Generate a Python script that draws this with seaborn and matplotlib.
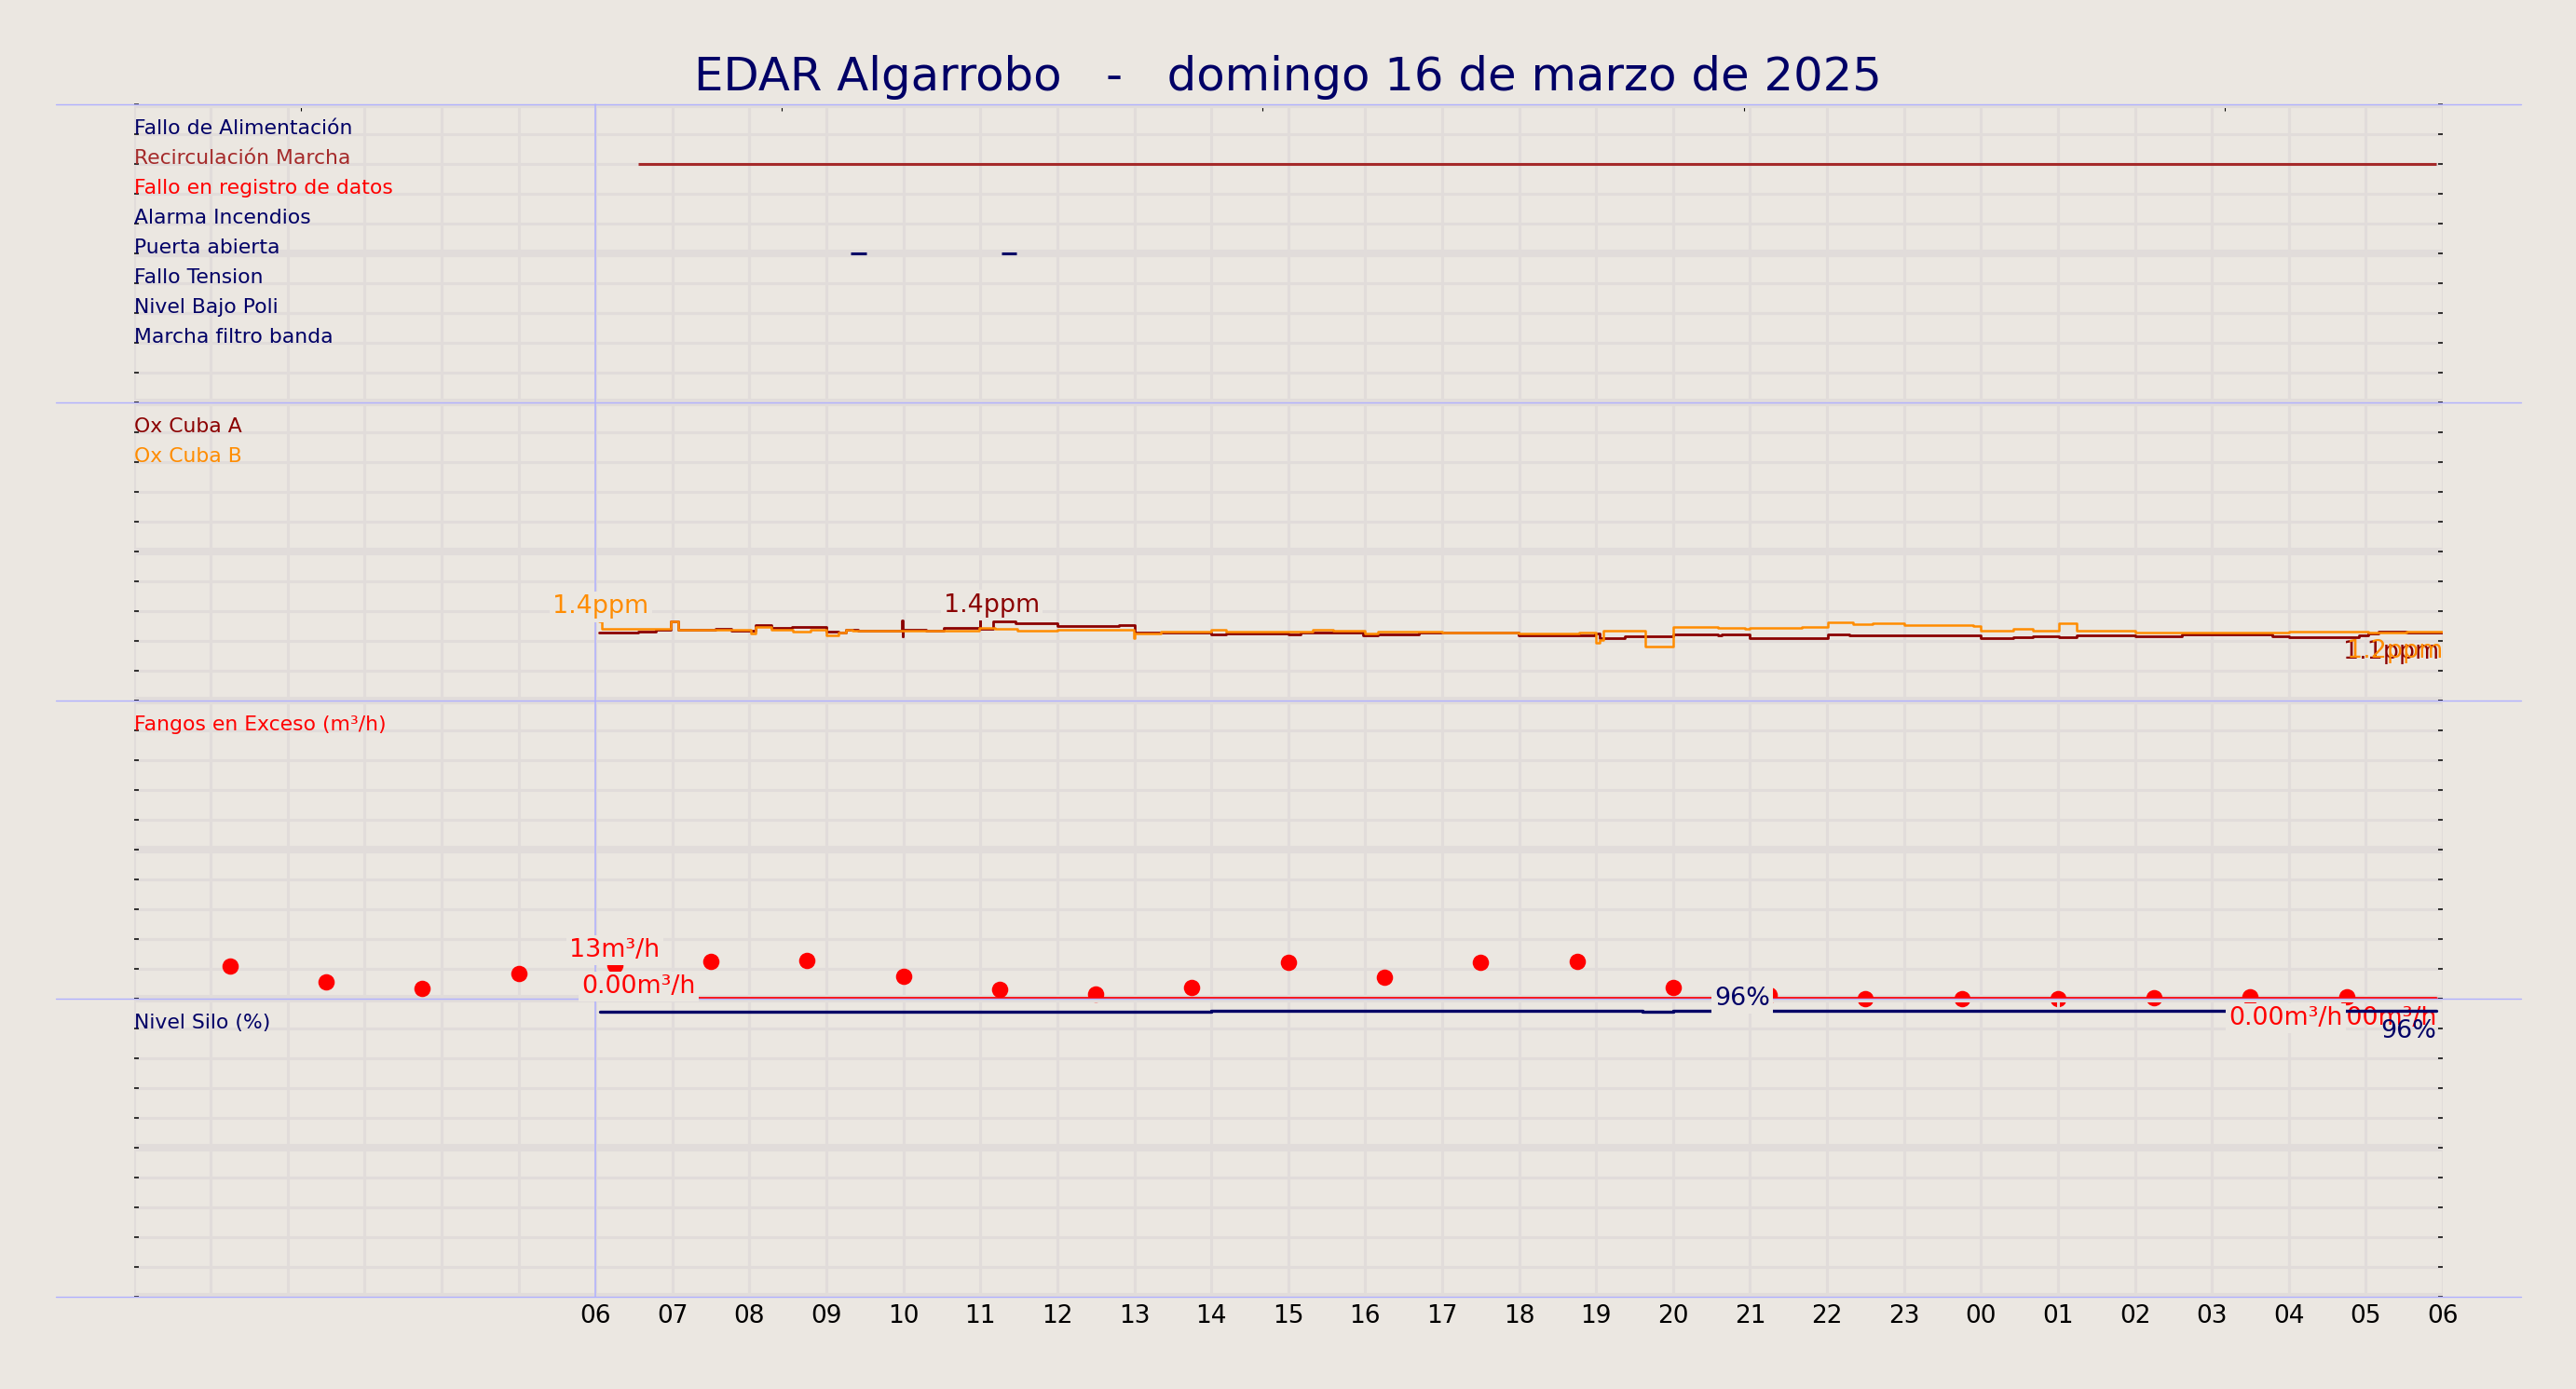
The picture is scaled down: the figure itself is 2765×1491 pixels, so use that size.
import matplotlib
matplotlib.use("Agg")
import matplotlib.pyplot as plt
import matplotlib.ticker as mticker
from matplotlib import transforms
from matplotlib.lines import Line2D
import seaborn as sns

# colours
BG = "#ebe7e1"
GRID = "#e1dcda"
SEP = "#b0b0ff"
NAVY = "#000066"

title = "EDAR Algarrobo   -   domingo 16 de marzo de 2025"
hour_labels = ["06", "07", "08", "09", "10", "11", "12", "13", "14", "15", "16", "17",
               "18", "19", "20", "21", "22", "23", "00", "01", "02", "03", "04", "05", "06"]

# panel 1 - digital signals (level = row from the top)
signal_names = ["Fallo de Alimentación", "Recirculación Marcha", "Fallo en registro de datos",
                "Alarma Incendios", "Puerta abierta", "Fallo Tension", "Nivel Bajo Poli",
                "Marcha filtro banda"]
signal_colors = [NAVY, "#a52a2a", "red", NAVY, NAVY, NAVY, NAVY, NAVY]
recirc_on = [6.55]
recirc_off = [29.92]
puerta_on = [9.32, 11.28]
puerta_off = [9.52, 11.47]

# panel 2 - oxygen (hours since 00:00, ppm)
ox_a_t = [6.05, 6.55, 6.78, 6.98, 7.07, 7.56, 7.76, 8.08, 8.28, 8.55, 9.00, 9.16, 9.25, 9.41,
          9.985, 9.99, 9.995, 10.30, 10.52, 10.995, 11.00, 11.17, 11.46, 12.00, 12.80, 13.00,
          13.35, 14.00, 14.19, 15.00, 15.16, 15.97, 16.16, 16.70, 17.99, 18.98, 19.04, 19.37,
          20.00, 20.58, 20.63, 20.99, 22.01, 22.29, 24.00, 24.42, 24.67, 25.01, 25.24, 26.00,
          26.61, 27.79, 28.00, 28.91, 29.03, 29.16, 29.53, 30.00]
ox_a_v = [1.36, 1.38, 1.43, 1.59, 1.43, 1.44, 1.41, 1.51, 1.46, 1.48, 1.38, 1.36, 1.43, 1.40,
          1.61, 1.29, 1.43, 1.40, 1.46, 1.61, 1.45, 1.60, 1.55, 1.50, 1.52, 1.36,
          1.37, 1.34, 1.35, 1.33, 1.36, 1.31, 1.34, 1.36, 1.32, 1.35, 1.26, 1.29,
          1.34, 1.31, 1.34, 1.26, 1.34, 1.32, 1.26, 1.28, 1.29, 1.27, 1.32, 1.29,
          1.33, 1.30, 1.28, 1.32, 1.35, 1.39, 1.37, 1.37]
ox_b_t = [6.05, 6.08, 6.98, 7.07, 8.02, 8.08, 8.28, 8.56, 8.79, 9.00, 9.16, 9.25, 9.34, 10.00,
          10.99, 11.19, 11.48, 12.00, 12.99, 13.00, 13.35, 14.00, 14.19, 14.70, 15.32, 15.58,
          16.00, 16.16, 16.62, 16.70, 17.00, 17.99, 18.78, 19.00, 19.04, 19.09, 19.64, 20.00,
          20.58, 20.93, 20.99, 21.67, 22.01, 22.34, 22.59, 23.00, 23.90, 24.00, 24.42, 24.67,
          25.01, 25.24, 26.00, 26.61, 28.00, 29.03, 29.53, 30.00]
ox_b_v = [1.59, 1.44, 1.59, 1.42, 1.35, 1.48, 1.43, 1.39, 1.43, 1.31, 1.37, 1.42, 1.40, 1.41,
          1.46, 1.44, 1.40, 1.42, 1.26, 1.35, 1.39, 1.43, 1.38, 1.39, 1.43, 1.40,
          1.35, 1.39, 1.38, 1.39, 1.37, 1.35, 1.37, 1.16, 1.22, 1.40, 1.09, 1.49,
          1.47, 1.45, 1.47, 1.49, 1.58, 1.54, 1.56, 1.52, 1.50, 1.41, 1.45, 1.41,
          1.56, 1.41, 1.36, 1.37, 1.39, 1.36, 1.39, 1.39]

# panel 3 - excess sludge (m3/h)
fangos_t = [1.25, 2.5, 3.75, 5.0, 6.25, 7.5, 8.75, 10.0, 11.25, 12.5, 13.75, 15.0, 16.25,
            17.5, 18.75, 20.0, 21.25, 22.5, 23.75, 25.0, 26.25, 27.5, 28.75]
fangos_v = [10.9, 5.5, 3.4, 8.4, 11.25, 12.5, 12.8, 7.6, 3.25, 1.6, 3.8, 12.1, 7.1,
            12.1, 12.6, 3.8, 1.25, 0.1, 0.1, 0.1, 0.4, 0.7, 0.6]
caudal_t = [6.07, 29.92]
caudal_v = [0.0, 0.0]

# panel 4 - silo level (%)
silo_t = [6.06, 14.0, 19.6, 20.0, 29.92]
silo_v = [95.6, 95.95, 95.5, 95.95, 95.95]

sns.set_theme(style="whitegrid", rc={"figure.facecolor": BG, "axes.facecolor": BG})
plt.rcParams["font.family"] = ["DejaVu Sans"]

W, H = 2765, 1491
fig = plt.figure(figsize=(W / 200, H / 200), dpi=200)
fig.patch.set_facecolor(BG)
left, right = 143.5 / W, 2622 / W
rows = [112, 432, 752, 1072, 1392]


def make_panel(i, lo, hi, invert=False):
    ax = fig.add_axes([left, 1 - rows[i + 1] / H, right - left, (rows[i + 1] - rows[i]) / H])
    ax.set_xlim(0, 30)
    ax.set_ylim((hi, lo) if invert else (lo, hi))
    # figure already has the same background, so the panels stay transparent
    ax.patch.set_visible(False)
    for s in ax.spines.values():
        s.set_visible(False)
    ax.xaxis.set_major_locator(mticker.MultipleLocator(1))
    ax.yaxis.set_major_locator(mticker.MultipleLocator((hi - lo) / 2))
    ax.yaxis.set_minor_locator(mticker.MultipleLocator((hi - lo) / 10))
    ax.grid(True, which="major", axis="x", color=GRID, lw=1.1)
    ax.grid(True, which="major", axis="y", color=GRID, lw=2.9)
    ax.grid(True, which="minor", axis="y", color=GRID, lw=1.1)
    ax.tick_params(axis="y", which="both", direction="in", left=True, right=True,
                   length=1.8, width=0.55, color="black", labelleft=False)
    ax.tick_params(axis="x", which="both", length=0, labelbottom=False)
    ax.set_axisbelow(True)
    return ax


ax1 = make_panel(0, 0, 10, invert=True)
ax2 = make_panel(1, 0, 6)
ax3 = make_panel(2, 0, 100)
ax4 = make_panel(3, 0, 100)

# panel 1
for k, (name, col) in enumerate(zip(signal_names, signal_colors), start=1):
    ax1.text(0, k, name, color=col, fontsize=7.9, ha="left", va="baseline")
ax1.hlines([2] * len(recirc_on), recirc_on, recirc_off, color="#a52a2a", lw=1.1)
ax1.hlines([5] * len(puerta_on), puerta_on, puerta_off, color=NAVY, lw=1.1)
top = ax1.secondary_xaxis("top")
top.set_xticks([2.17, 8.42, 14.67, 20.92, 27.17])
top.xaxis.set_major_formatter(mticker.NullFormatter())
top.tick_params(direction="in", length=2.6, width=0.4, color="black")
for s in top.spines.values():
    s.set_visible(False)

# panel 2
ax2.text(0, 5.4, "Ox Cuba A", color="darkred", fontsize=7.9, va="baseline")
ax2.text(0, 4.8, "Ox Cuba B", color="darkorange", fontsize=7.9, va="baseline")
sns.lineplot(x=ox_a_t, y=ox_a_v, ax=ax2, color="darkred", lw=1.0, estimator=None,
             drawstyle="steps-post")
sns.lineplot(x=ox_b_t, y=ox_b_v, ax=ax2, color="darkorange", lw=0.9, estimator=None,
             drawstyle="steps-post")

# panel 3
ax3.text(0, 90, "Fangos en Exceso (m³/h)", color="red", fontsize=7.9, va="baseline")
sns.scatterplot(x=fangos_t, y=fangos_v, ax=ax3, color="red", s=40, linewidth=0,
                clip_on=False, zorder=2)
sns.lineplot(x=caudal_t, y=caudal_v, ax=ax3, color="red", lw=1.35, clip_on=False,
             zorder=3)

# panel 4
ax4.text(0, 90, "Nivel Silo (%)", color=NAVY, fontsize=7.9, va="baseline")
# last flow value sits under the silo line
ax4.annotate("0.00m³/h", xy=(caudal_t[-1], caudal_v[-1]), xycoords=ax3.transData,
             xytext=(0, -2.8), textcoords="offset points", ha="right", va="top",
             color="red", fontsize=9.7, annotation_clip=False, zorder=1.8)
sns.lineplot(x=silo_t, y=silo_v, ax=ax4, color=NAVY, lw=1.2, estimator=None,
             drawstyle="steps-post", zorder=2)
ax4.set_xticks(range(0, 31))
ax4.set_xticklabels([""] * 6 + hour_labels)
ax4.tick_params(axis="x", labelbottom=True, labelsize=9.5, pad=3, labelcolor="black")

# separators and 06:00 marker (drawn by the last axes so the labels can sit over them)
for r in rows:
    ax4.add_line(Line2D([60 / W, 2706 / W], [1 - r / H, 1 - r / H], transform=fig.transFigure,
                        color=SEP, lw=0.5, clip_on=False, zorder=1.5))
blend = transforms.blended_transform_factory(ax4.transData, fig.transFigure)
ax4.add_line(Line2D([6, 6], [1 - rows[0] / H, 1 - rows[-1] / H], transform=blend,
                    color=SEP, lw=0.55, clip_on=False, zorder=1.5))


def note(src, x, y, s, color, dx=0, dy=0, ha="center", va="bottom", box=True):
    kw = {}
    if box:
        kw["bbox"] = dict(boxstyle="square,pad=0.12", fc=BG, ec="none")
    ax4.annotate(s, xy=(x, y), xycoords=src.transData, xytext=(dx, dy),
                 textcoords="offset points", ha=ha, va=va, color=color, fontsize=9.7,
                 annotation_clip=False, zorder=5, **kw)


note(ax2, 6.07, 1.59, "1.4ppm", "darkorange", dy=1)
note(ax2, 11.15, 1.60, "1.4ppm", "darkred", dy=1.5)
note(ax2, 30, ox_a_v[-1], "1.1ppm", "darkred", dx=-1.4, dy=-3, ha="right", va="top", box=False)
note(ax2, 30, ox_b_v[-1], "1.2ppm", "darkorange", dy=-3, ha="right", va="top", box=False)
note(ax3, 6.25, fangos_v[4], "13m³/h", "red", dy=1)
note(ax3, 6.56, 0, "0.00m³/h", "red")
note(ax3, 27.96, 0, "0.00m³/h", "red", dy=-2.8, va="top")
note(ax4, 20.9, silo_v[-1], "96%", NAVY)
note(ax4, silo_t[-1], silo_v[-1], "96%", NAVY, dy=-3.2, ha="right", va="top", box=False)

fig.text(0.5, 1 - 97 / H, title, ha="center", va="baseline", fontsize=17.9, color=NAVY)

fig.savefig("out.png", dpi=200, facecolor=BG)
